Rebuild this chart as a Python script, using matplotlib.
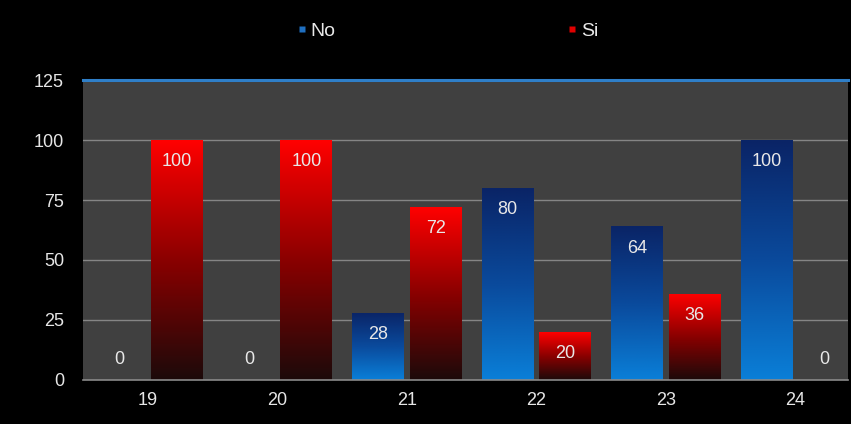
import matplotlib.pyplot as plt
import numpy as np
from matplotlib.colors import LinearSegmentedColormap
from matplotlib.lines import Line2D

plt.rcParams['font.family'] = ['Liberation Sans', 'DejaVu Sans']

categories = ['19', '20', '21', '22', '23', '24']
no_vals = [0, 0, 28, 80, 64, 100]
si_vals = [100, 100, 72, 20, 36, 0]

blue_cmap = LinearSegmentedColormap.from_list('b', ['#0a7fd8', '#0a4a9c', '#0a2466'])
red_cmap = LinearSegmentedColormap.from_list('r', ['#1c0a0a', '#8a0000', '#ff0000'])

fig = plt.figure(figsize=(8.51, 4.24), dpi=100, facecolor='black')
ax = fig.add_axes([0.098, 0.104, 0.899, 0.707])
ax.set_facecolor('#404040')

x = np.arange(len(categories))
w = 0.40
off = 0.222

ax.set_ylim(0, 125)
ax.set_xlim(-0.5, 5.41)
ax.set_yticks([0, 25, 50, 75, 100, 125])
for yv in [25, 50, 75, 100]:
    ax.axhline(yv, color='#858585', lw=1, zorder=1)
ax.axhline(0, color='#8a8a8a', lw=1.2, zorder=3, clip_on=False)
ax.axhline(125, color='#2f7fc8', lw=2.2, zorder=3, clip_on=False)

grad = np.linspace(0, 1, 256).reshape(-1, 1)


def draw(vals, pos, cmap):
    bars = ax.bar(pos, vals, w, color='none', edgecolor='none', zorder=2)
    for b, v in zip(bars, vals):
        if v <= 0:
            continue
        x0 = b.get_x()
        im = ax.imshow(grad, cmap=cmap, aspect='auto', origin='lower',
                       extent=[x0, x0 + b.get_width(), 0, v], zorder=2)
        im.set_clip_path(b)
    for p, v in zip(pos, vals):
        ly = max(v - 9, 8.5)
        ax.text(p, ly, str(v), ha='center', va='center', color='#e8e8e8',
                fontsize=13, zorder=4)


draw(no_vals, x - off, blue_cmap)
draw(si_vals, x + off, red_cmap)

ax.set_xticks(x)
ax.set_xticklabels(categories)
ax.tick_params(colors='#e6e6e6', labelsize=13, length=0)
ax.tick_params(axis='x', pad=9)
ax.tick_params(axis='y', pad=14)
for s in ax.spines.values():
    s.set_visible(False)

handles = [Line2D([], [], marker='s', color='none', markerfacecolor='#1f6fc0',
                  markeredgecolor='none', markersize=5, label='No'),
           Line2D([], [], marker='s', color='none', markerfacecolor='#e00000',
                  markeredgecolor='none', markersize=5, label='Si')]
leg = fig.legend(handles=handles, loc='center', bbox_to_anchor=(0.526, 0.927), ncol=2,
                 frameon=False, prop={'size': 14},
                 handlelength=0.5, handletextpad=0.2,
                 columnspacing=11.9, labelcolor='#e8e8e8')

fig.savefig('out.png', dpi=100, facecolor='black')
